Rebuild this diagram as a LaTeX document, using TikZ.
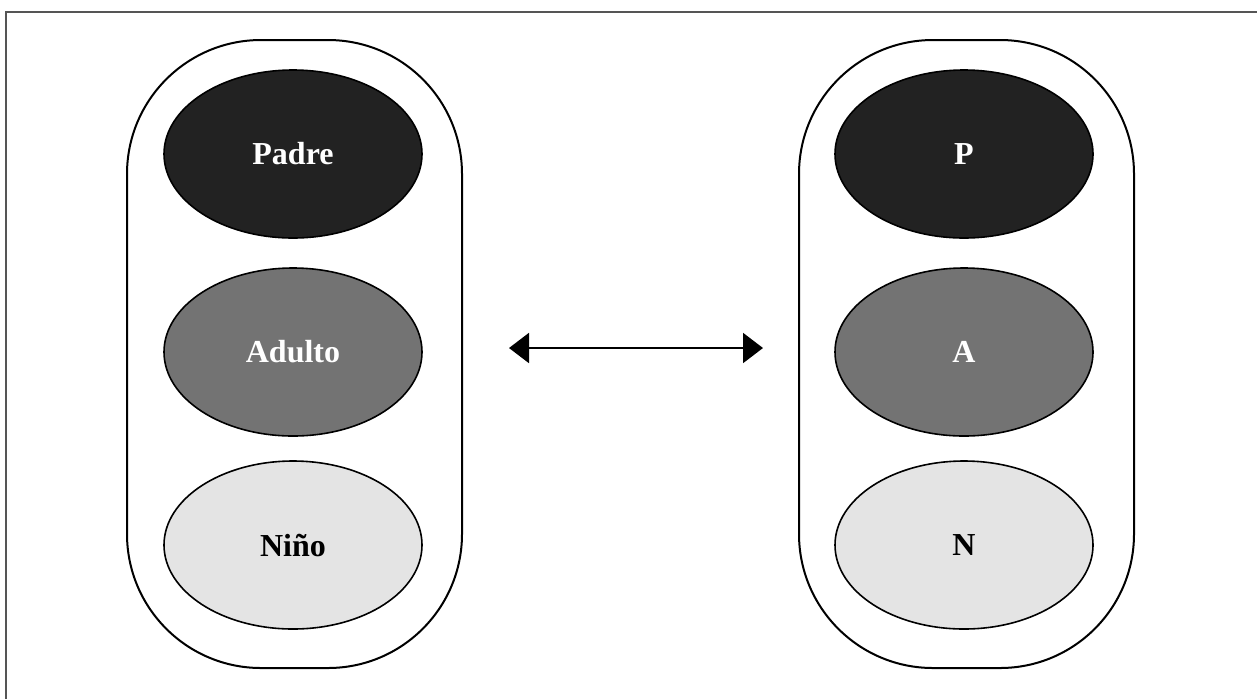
\documentclass[tikz,border=0pt]{standalone}
\usepackage{fontspec}
\setmainfont{Liberation Serif}
\usetikzlibrary{shapes.geometric,arrows.meta}
\definecolor{cdark}{HTML}{222222}
\definecolor{cmid}{HTML}{737373}
\definecolor{clight}{HTML}{E4E4E4}
\definecolor{cframe}{HTML}{555555}
\tikzset{
  capsule/.style={draw=black, line width=1pt, rounded corners=67pt,
    minimum width=167.5pt, minimum height=314pt, inner sep=0pt, shape=rectangle},
  oval/.style={ellipse, draw=black, line width=0.8pt, minimum width=129pt,
    minimum height=84pt, inner sep=0pt,
    font=\fontsize{16}{19}\selectfont\bfseries},
  ovdark/.style={oval, fill=cdark, text=white},
  ovmid/.style={oval, fill=cmid, text=white},
  ovlight/.style={oval, fill=clight, text=black},
  arr/.style={line width=1pt, {Triangle[length=10pt,width=15pt]}-{Triangle[length=10pt,width=15pt]}}
}
\begin{document}
\begin{tikzpicture}[x=0.5pt,y=-0.5pt]
\useasboundingbox (0,0) rectangle (1257,698);
\draw[cframe, line width=1pt] (6,710) -- (6,12) -- (1270,12);
% capsules
\node[capsule] (capL) at (294.5,354) {};
\node[capsule] (capR) at (966.5,354) {};
% left ellipses
\node[ovdark] (padre) at (293,154) {Padre};
\node[ovmid] (adulto) at (293,352) {Adulto};
\node[ovlight] (nino) at (293,545) {Niño};
% right ellipses
\node[ovdark] (p) at (964,154) {P};
\node[ovmid] (a) at (964,352) {A};
\node[ovlight] (n) at (964,545) {N};
% arrow
\coordinate (a1) at (509,348);
\coordinate (a2) at (763,348);
\draw[arr] (a1) -- (a2);
\end{tikzpicture}
\end{document}
